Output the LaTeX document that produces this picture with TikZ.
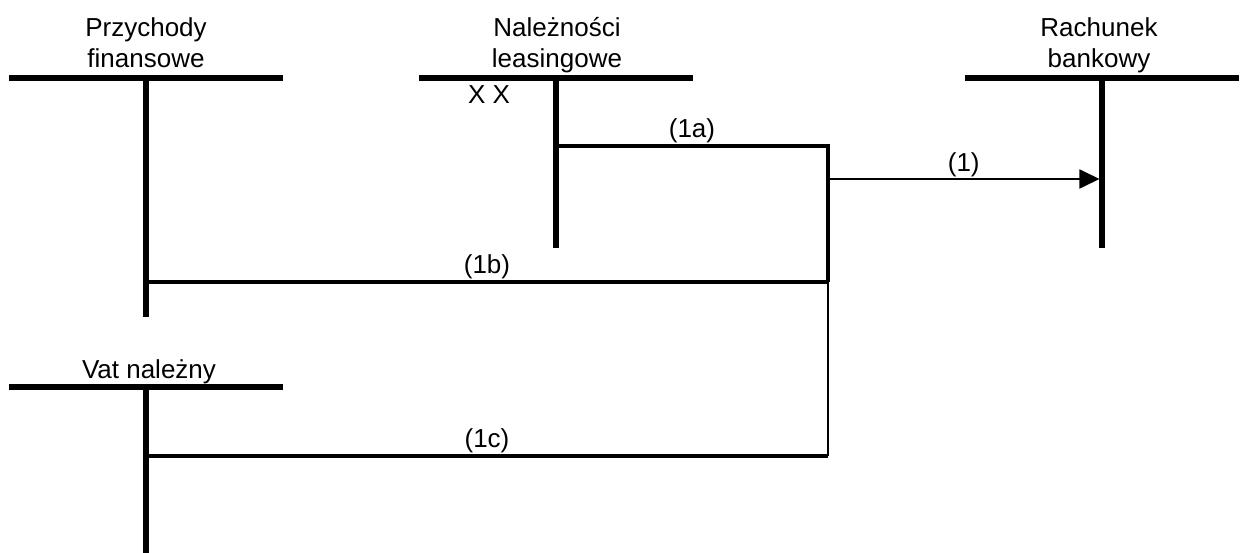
\documentclass[tikz,border=0pt]{standalone}
\usepackage{fontspec}
\setmainfont{Liberation Sans}
\usetikzlibrary{arrows.meta}

\begin{document}
\begin{tikzpicture}[x=0.02cm, y=-0.02cm,
        konto/.style={line width=2.9pt},
        ksiega/.style={line width=1.9pt},
        cienka/.style={line width=1.1pt},
        nazwa/.style={align=center, inner sep=0pt, font=\fontsize{14.8}{17.6}\selectfont},
        kwota/.style={above, inner sep=0.8pt, font=\fontsize{14.8}{17.6}\selectfont}]

    \useasboundingbox (0,0) rectangle (1242,553);

    % konta T
    \coordinate (pf) at (146,78);
    \coordinate (nl) at (556,78);
    \coordinate (rb) at (1102,78);
    \coordinate (vat) at (146,387);

    \draw[konto] (pf) ++(-137,0) -- ++(274,0);
    \draw[konto] (pf) -- ++(0,239);
    \draw[konto] (nl) ++(-137,0) -- ++(274,0);
    \draw[konto] (nl) -- ++(0,170);
    \draw[konto] (rb) ++(-137,0) -- ++(274,0);
    \draw[konto] (rb) -- ++(0,170);
    \draw[konto] (vat) ++(-137,0) -- ++(274,0);
    \draw[konto] (vat) -- ++(0,166);

    \node[nazwa] (pf-nazwa) at (146,43) {Przychody\\finansowe};
    \node[nazwa] (nl-nazwa) at (557,45) {Należności\\leasingowe};
    \node[nazwa] (rb-nazwa) at (1099,45) {Rachunek\\bankowy};
    \node[nazwa] (vat-nazwa) at (149,372) {Vat należny};

    \node[nazwa] (saldo) at (489,95) {X X};

    % punkty zaczepienia
    \coordinate (a1) at (556,146);
    \coordinate (w1) at (828,146);
    \coordinate (w2) at (828,282);
    \coordinate (w3) at (828,456);
    \coordinate (b1) at (146,282);
    \coordinate (c1) at (146,456);
    \coordinate (r0) at (828,179);
    \coordinate (r1) at (1099.5,179);

    \draw[ksiega] (a1) -- node[kwota] {(1a)} (w1) -- (w2);
    \draw[ksiega] (b1) -- node[kwota] {(1b)} (w2);
    \draw[cienka] (w2) -- (w3);
    \draw[ksiega] (c1) -- node[kwota] {(1c)} (w3);
    \draw[cienka, -{Triangle[length=11.4pt, width=10.8pt]}] (r0) -- node[kwota] {(1)} (r1);
\end{tikzpicture}
\end{document}
